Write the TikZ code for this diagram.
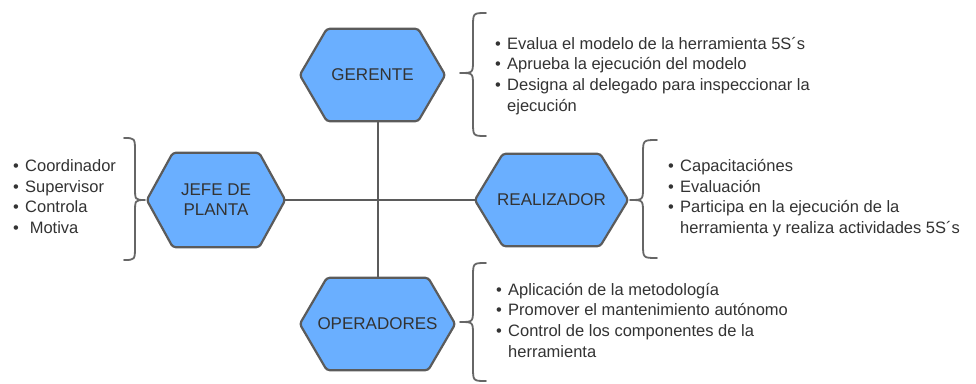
\documentclass[tikz,border=0pt]{standalone}
\usepackage{fontspec}
\setmainfont{Liberation Sans}
\usetikzlibrary{backgrounds}
\definecolor{hexfill}{HTML}{6AAFFF}
\definecolor{hexline}{HTML}{5B5B5B}
\definecolor{txt}{HTML}{333333}
\definecolor{brc}{HTML}{666666}
\newcommand\bl{\makebox[12pt][l]{\textbullet}}
\newcommand\ind{\makebox[12pt][l]{}}
\newcommand\hexdraw[2]{\draw[hexshape] (#1.west) -- ([xshift=#2]#1.north west) -- ([xshift=-#2]#1.north east) -- (#1.east) -- ([xshift=-#2]#1.south east) -- ([xshift=#2]#1.south west) -- cycle;}
% left-facing brace: tipx, tipy, vertical x, top y, bottom y, end x
\newcommand\bracepath[6]{\draw[brace] (#6,#4) .. controls (#3,#4) .. (#3,#4+14) -- (#3,#2-13) .. controls (#3,#2) .. (#1,#2) .. controls (#3,#2) .. (#3,#2+13) -- (#3,#5-14) .. controls (#3,#5) .. (#6,#5);}
\begin{document}
\begin{tikzpicture}[x=1pt,y=-1pt,
  hex/.style={inner sep=0pt, minimum height=92pt, align=center, text=txt,
    font=\fontsize{17}{20}\selectfont},
  hexshape/.style={draw=hexline, fill=hexfill, line width=2.2pt, rounded corners=3pt, line join=round},
  conn/.style={draw=hexline, line width=2pt},
  brace/.style={draw=brc, line width=1.8pt, line cap=round, line join=round},
  list/.style={anchor=base west, inner sep=0pt, text=txt, font=\fontsize{16.5}{20.7}\selectfont}]
\useasboundingbox (0,0) rectangle (976,383);

\node[hex, minimum width=145pt] (g) at (372.5,75) {GERENTE};
\node[hex, minimum width=138pt, minimum height=94pt] (j) at (216,200) {JEFE DE\\PLANTA};
\node[hex, minimum width=153pt] (r) at (551.5,200) {REALIZADOR};
\node[hex, minimum width=155pt] (o) at (377.5,324) {OPERADORES};

\begin{pgfonlayer}{background}
  \fill[white] (0,0) rectangle (976,383);
  \draw[conn] (o.north) -- (o.north |- g.south);
  \draw[conn] (j.east) -- (r.west);
  \hexdraw{g}{27}
  \hexdraw{j}{26}
  \hexdraw{r}{28}
  \hexdraw{o}{27}
\end{pgfonlayer}

% braces
\bracepath{460}{73}{473}{13}{136}{486}
\bracepath{630}{200}{643}{140}{258}{657}
\bracepath{460}{322}{473}{263}{381}{486}
\draw[brace] (124,138) .. controls (135,138) .. (135,152) -- (135,187) .. controls (135,200) .. (145,200) .. controls (135,200) .. (135,213) -- (135,246) .. controls (135,260) .. (124,260);

% lists
\node[list] (lg) at (495,49) {\begin{tabular}[t]{@{}l@{}}
\bl Evalua el modelo de la herramienta 5S´s\\
\bl Aprueba la ejecución del modelo\\
\bl Designa al delegado para inspeccionar la\\
\ind ejecución
\end{tabular}};
\node[list] (lj) at (13,171.5) {\begin{tabular}[t]{@{}l@{}}
\bl Coordinador\\
\bl Supervisor\\
\bl Controla\\
\bl\ Motiva
\end{tabular}};
\node[list] (lr) at (668,171.5) {\begin{tabular}[t]{@{}l@{}}
\bl Capacitaciónes\\
\bl Evaluación\\
\bl Participa en la ejecución de la\\
\ind herramienta y realiza actividades 5S´s
\end{tabular}};
\node[list] (lo) at (496,295) {\begin{tabular}[t]{@{}l@{}}
\bl Aplicación de la metodología\\
\bl Promover el mantenimiento autónomo\\
\bl Control de los componentes de la\\
\ind herramienta
\end{tabular}};
\end{tikzpicture}
\end{document}
